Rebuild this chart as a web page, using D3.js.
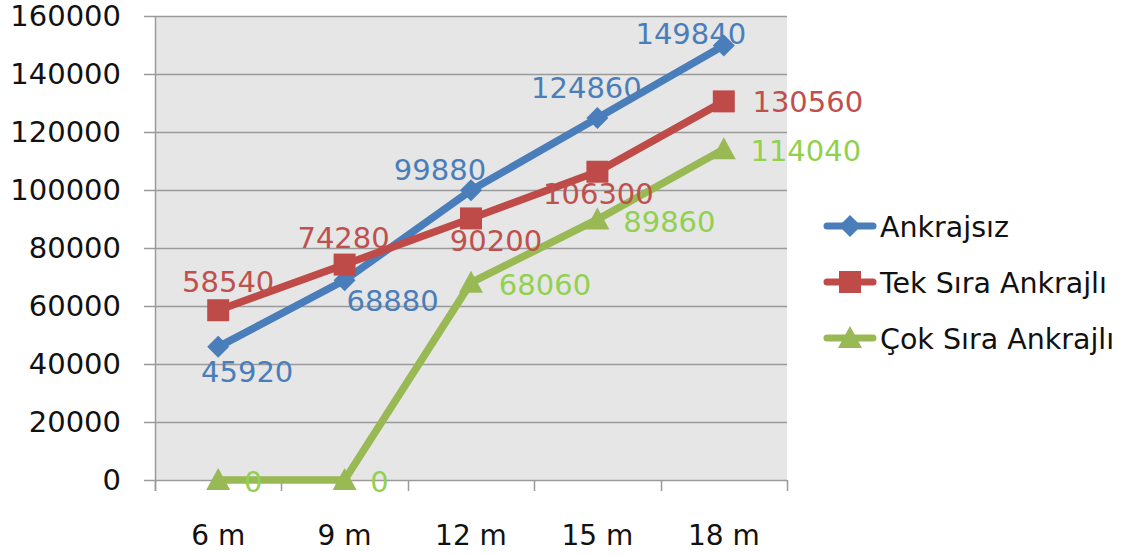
<!DOCTYPE html>
<html><head><meta charset="utf-8">
<script src="https://cdn.jsdelivr.net/npm/d3@7"></script>
<style>html,body{margin:0;padding:0;background:#fff;}svg{display:block;}</style>
</head><body>
<svg id="c" width="1128" height="555"></svg>
<script>
const categories = ["6 m", "9 m", "12 m", "15 m", "18 m"];
const seriesNames = ["Ankrajsız", "Tek Sıra Ankrajlı", "Çok Sıra Ankrajlı"];
const ankrajsiz = [45920, 68880, 99880, 124860, 149840];
const tekSira = [58540, 74280, 90200, 106300, 130560];
const cokSira = [0, 0, 68060, 89860, 114040];
const yTicks = [0, 20000, 40000, 60000, 80000, 100000, 120000, 140000, 160000];

// layout / style
const lineColors = ["#4a7ebb", "#be4b48", "#98b954"];
const labelColors = ["#4a7ebb", "#c0504d", "#92d050"];
const shapes = ["diamond", "square", "triangle"];
const labelOffsets = [
  [[29,25],[48,21],[-31,-20],[-11,-30],[-33,-11]],
  [[10,-28],[-1,-27],[25,23],[1,22],[84,1]],
  [[35,2],[35,2],[74,2],[72,3],[82,2]]
];
const FONT = "DejaVu Sans";
const FS = 29;

const svg = d3.select("#c");
const L = 155, R = 787, T = 16, B = 480;
const x = d3.scaleBand().domain(categories).range([L, R]);
const y = d3.scaleLinear().domain([0, 160000]).range([B, T]);

svg.append("rect").attr("x", L).attr("y", T).attr("width", R - L).attr("height", B - T).attr("fill", "#e6e6e6");

// gridlines
svg.append("g").selectAll("line").data(yTicks).join("line")
  .attr("x1", L - 11).attr("x2", R).attr("y1", d => Math.round(y(d)) + 0.5).attr("y2", d => Math.round(y(d)) + 0.5)
  .attr("stroke", "#9a9a9a").attr("stroke-width", 1.5);

// y axis line
svg.append("line").attr("x1", L + 0.5).attr("x2", L + 0.5).attr("y1", T).attr("y2", B + 11)
  .attr("stroke", "#9a9a9a").attr("stroke-width", 1.5);
// x ticks at band edges
const edges = categories.map(c => x(c)).concat([R]);
svg.append("g").selectAll("line").data(edges).join("line")
  .attr("x1", d => Math.round(d) + 0.5).attr("x2", d => Math.round(d) + 0.5).attr("y1", B).attr("y2", B + 11)
  .attr("stroke", "#9a9a9a").attr("stroke-width", 1.5);

// y labels
svg.append("g").selectAll("text").data(yTicks).join("text")
  .attr("x", 121).attr("y", d => y(d) + 10).attr("text-anchor", "end")
  .attr("font-family", FONT).attr("font-size", FS).attr("fill", "#111")
  .text(d => d);

// x labels
svg.append("g").selectAll("text").data(categories).join("text")
  .attr("x", d => x(d) + x.bandwidth() / 2).attr("y", 545).attr("text-anchor", "middle")
  .attr("font-family", FONT).attr("font-size", 28).attr("fill", "#111")
  .text(d => d);

function markerPath(shape) {
  if (shape === "diamond") return "M0,-11L11,0L0,11L-11,0Z";
  if (shape === "square") return "M-11,-11H11V11H-11Z";
  return "M0,-12L12,10H-12Z";
}

const allSeries = [ankrajsiz, tekSira, cokSira];
const line = d3.line().x((d, i) => x(categories[i]) + x.bandwidth() / 2).y(d => y(d));

allSeries.forEach((vals, s) => {
  const g = svg.append("g");
  g.append("path").datum(vals).attr("d", line).attr("fill", "none")
    .attr("stroke", lineColors[s]).attr("stroke-width", 7.5).attr("stroke-linejoin", "round");
  g.selectAll("path.m").data(vals).join("path").attr("class", "m")
    .attr("transform", (d, i) => `translate(${x(categories[i]) + x.bandwidth() / 2},${y(d)})`)
    .attr("d", markerPath(shapes[s])).attr("fill", lineColors[s]);
});

allSeries.forEach((vals, s) => {
  svg.append("g").selectAll("text").data(vals).join("text")
    .attr("x", (d, i) => x(categories[i]) + x.bandwidth() / 2 + labelOffsets[s][i][0])
    .attr("y", (d, i) => y(d) + labelOffsets[s][i][1] + 10)
    .attr("text-anchor", "middle")
    .attr("font-family", FONT).attr("font-size", FS).attr("fill", labelColors[s])
    .text(d => d);
});

// legend
const leg = svg.append("g");
seriesNames.forEach((name, s) => {
  const ly = 226 + s * 56;
  leg.append("line").attr("x1", 827).attr("x2", 873).attr("y1", ly).attr("y2", ly)
    .attr("stroke", lineColors[s]).attr("stroke-width", 7).attr("stroke-linecap", "round");
  leg.append("path").attr("transform", `translate(850,${ly})`).attr("d", markerPath(shapes[s])).attr("fill", lineColors[s]);
  leg.append("text").attr("x", 880).attr("y", ly + 11).attr("font-family", FONT).attr("font-size", 28.5)
    .attr("fill", "#111").text(name);
});
</script>
</body></html>
